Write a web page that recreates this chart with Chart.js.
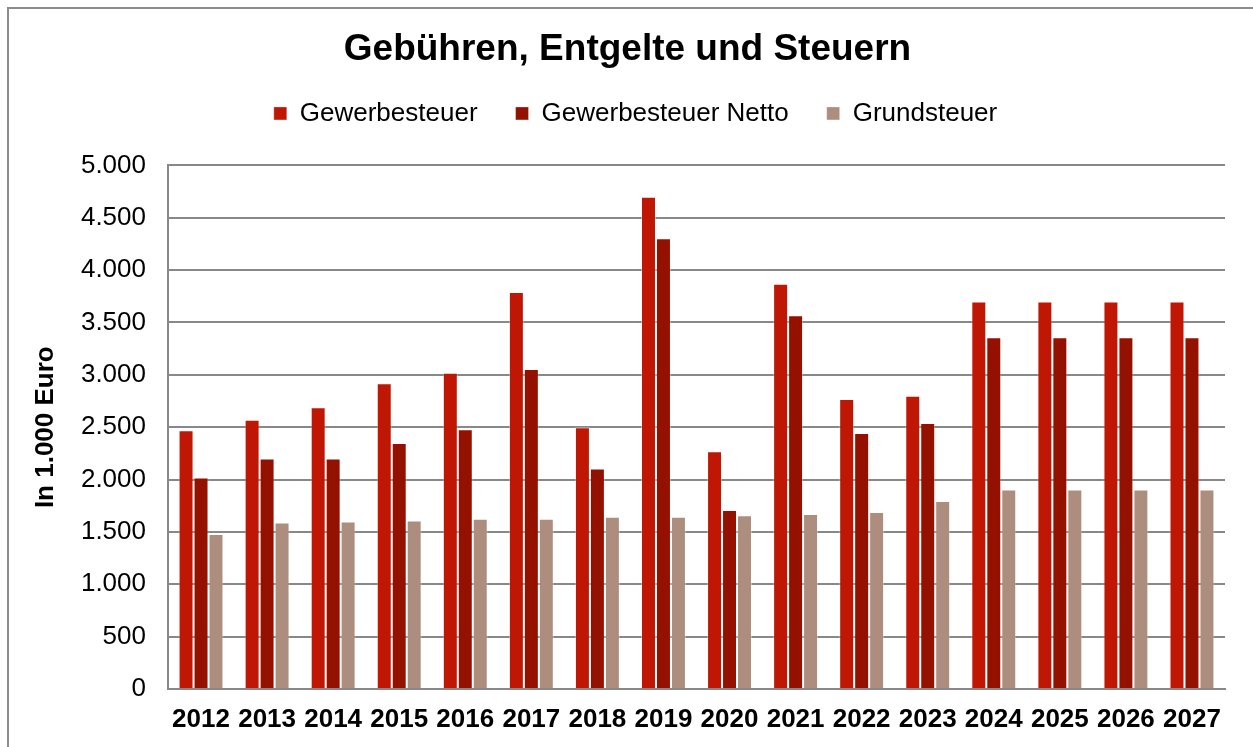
<!DOCTYPE html>
<html>
<head>
<meta charset="utf-8">
<script src="https://cdn.jsdelivr.net/npm/chart.js@4/dist/chart.umd.min.js"></script>
<style>
  html, body { margin: 0; padding: 0; background: #fff; overflow: hidden; }
  #frame { position: absolute; left: 7px; top: 7px; width: 1300px; height: 800px; border: 2px solid #8c8c8c; }
  #chart { position: absolute; left: 0; top: 0; }
</style>
</head>
<body>
<div id="frame"></div>
<canvas id="chart" width="1253" height="747"></canvas>
<script>
const YEARS = ['2012','2013','2014','2015','2016','2017','2018','2019',
               '2020','2021','2022','2023','2024','2025','2026','2027'];
const GEWERBESTEUER = [2470, 2570, 2690, 2920, 3020, 3790, 2500, 4700,
                       2270, 3870, 2770, 2800, 3700, 3700, 3700, 3700];
const GEWERBESTEUER_NETTO = [2020, 2200, 2200, 2350, 2480, 3055, 2105, 4305,
                             1710, 3570, 2445, 2540, 3360, 3360, 3360, 3360];
const GRUNDSTEUER = [1480, 1590, 1600, 1610, 1625, 1625, 1645, 1645,
                     1660, 1670, 1690, 1795, 1905, 1905, 1905, 1905];

const FONT = "'Liberation Sans', Arial, sans-serif";

function fmt(v) {
  return String(v).replace(/\B(?=(\d{3})+(?!\d))/g, '.');
}

function series(label, data, color) {
  return {
    label,
    data,
    backgroundColor: color,
    borderColor: 'rgba(255,255,255,0.35)',
    borderWidth: 1,
    categoryPercentage: 0.68,
    barPercentage: 1.0
  };
}

// extra room between legend and plot area, legend nudged right a bit
const legendGap = {
  id: 'legendGap',
  afterInit(chart) {
    const legend = chart.legend;
    const fit = legend.fit;
    const draw = legend.draw;
    legend.fit = function () {
      fit.call(this);
      this.height += 29;
    };
    legend.draw = function () {
      this.ctx.save();
      this.ctx.translate(8, 0);
      draw.call(this);
      this.ctx.restore();
    };
  }
};

new Chart(document.getElementById('chart'), {
  type: 'bar',
  data: {
    labels: YEARS,
    datasets: [
      series('Gewerbesteuer', GEWERBESTEUER, '#c01604'),
      series('Gewerbesteuer Netto', GEWERBESTEUER_NETTO, '#941100'),
      series('Grundsteuer', GRUNDSTEUER, '#ad8e7e')
    ]
  },
  plugins: [legendGap],
  options: {
    responsive: false,
    animation: false,
    layout: { padding: { left: 30, right: 28, top: 0, bottom: 0 } },
    plugins: {
      title: {
        display: true,
        text: 'Gebühren, Entgelte und Steuern',
        color: '#000',
        font: { family: FONT, size: 37, weight: 'bold' },
        padding: { top: 28, bottom: -10 }
      },
      legend: {
        position: 'top',
        labels: {
          color: '#000',
          font: { family: FONT, size: 26 },
          boxWidth: 13,
          boxHeight: 13,
          padding: 38
        }
      },
      tooltip: { enabled: false }
    },
    scales: {
      x: {
        grid: { display: false, drawTicks: false },
        border: { display: true, color: '#888', width: 2 },
        ticks: {
          color: '#000',
          font: { family: FONT, size: 26, weight: 'bold' },
          padding: 15,
          maxRotation: 0,
          autoSkip: false
        },
        afterFit: s => { s.height = 58; }
      },
      y: {
        min: 0,
        max: 5000,
        grid: { color: '#888', lineWidth: 2, drawTicks: false },
        border: { display: true, color: '#888', width: 2 },
        ticks: {
          stepSize: 500,
          color: '#000',
          font: { family: FONT, size: 26 },
          padding: 22,
          callback: v => fmt(v)
        },
        title: {
          display: true,
          text: 'In 1.000 Euro',
          color: '#000',
          font: { family: FONT, size: 26, weight: 'bold' },
          padding: { top: 0, bottom: 0 }
        },
        afterFit: s => { s.width = 138; }
      }
    }
  }
});
</script>
</body>
</html>
